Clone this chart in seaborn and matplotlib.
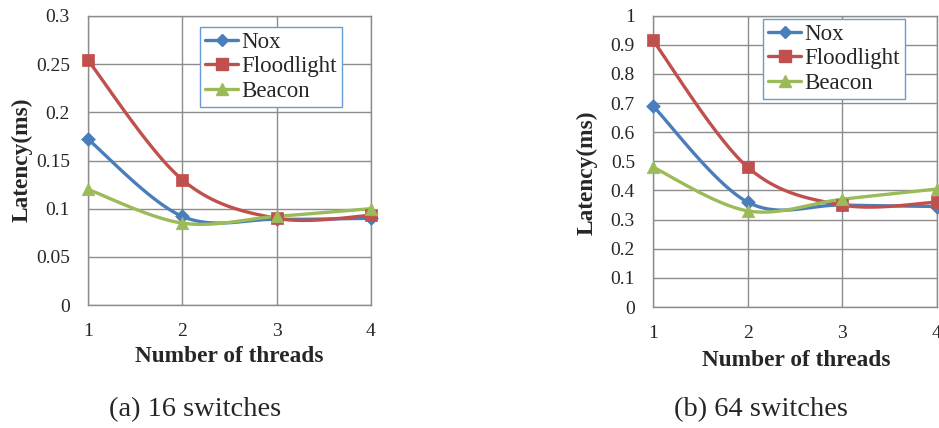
import numpy as np
import pandas as pd
import matplotlib
matplotlib.use("Agg")
import matplotlib.pyplot as plt
from matplotlib.lines import Line2D
import seaborn as sns

threads = [1, 2, 3, 4]
series = ["Nox", "Floodlight", "Beacon"]

# 16 switches
nox_16 = [0.172, 0.092, 0.089, 0.090]
flood_16 = [0.254, 0.130, 0.090, 0.093]
beacon_16 = [0.120, 0.085, 0.092, 0.100]

# 64 switches
nox_64 = [0.690, 0.360, 0.350, 0.345]
flood_64 = [0.915, 0.480, 0.350, 0.360]
beacon_64 = [0.480, 0.330, 0.370, 0.405]

y_ticks_16 = [0, 0.05, 0.1, 0.15, 0.2, 0.25, 0.3]
y_tick_labels_16 = ["0", "0.05", "0.1", "0.15", "0.2", "0.25", "0.3"]
y_ticks_64 = [0, 0.1, 0.2, 0.3, 0.4, 0.5, 0.6, 0.7, 0.8, 0.9, 1.0]
y_tick_labels_64 = ["0", "0.1", "0.2", "0.3", "0.4", "0.5", "0.6", "0.7", "0.8", "0.9", "1"]

colors = {"Nox": "#4A7EBB", "Floodlight": "#C0504D", "Beacon": "#9BBB59"}
markers = {"Nox": "D", "Floodlight": "s", "Beacon": "^"}
msizes = {"Nox": 7, "Floodlight": 9, "Beacon": 9}
leg_msizes = {"Nox": 6, "Floodlight": 8, "Beacon": 8}
GRID = "#8C8C8C"

sns.set_style("white")
plt.rcParams["font.family"] = ["Liberation Serif", "DejaVu Serif"]


def smooth(xs, ys, n=40):
    """Bezier smoothing through every point (spreadsheet-style smoothed line)."""
    xs = np.asarray(xs, float)
    ys = np.asarray(ys, float)
    px = np.concatenate([[xs[0]], xs, [xs[-1]]])
    py = np.concatenate([[ys[0]], ys, [ys[-1]]])
    out_x, out_y = [], []
    t = np.linspace(0, 1, n)
    for i in range(1, len(px) - 2):
        p0 = np.array([px[i], py[i]])
        p3 = np.array([px[i + 1], py[i + 1]])
        c1 = p0 + (np.array([px[i + 1], py[i + 1]]) - np.array([px[i - 1], py[i - 1]])) / 6
        c2 = p3 - (np.array([px[i + 2], py[i + 2]]) - np.array([px[i], py[i]])) / 6
        b = ((1 - t) ** 3)[:, None] * p0 + (3 * (1 - t) ** 2 * t)[:, None] * c1 \
            + (3 * (1 - t) * t ** 2)[:, None] * c2 + (t ** 3)[:, None] * p3
        out_x.extend(b[:, 0])
        out_y.extend(b[:, 1])
    return out_x, out_y


def draw_panel(ax, data, yticks, ylabels, ymax, legend_box):
    for name in series:
        sx, sy = smooth(threads, data[name])
        curve = pd.DataFrame({"x": sx, "y": sy})
        sns.lineplot(data=curve, x="x", y="y", ax=ax, color=colors[name],
                     linewidth=2.4, sort=False, estimator=None, zorder=3)
    for name in series:
        pts = pd.DataFrame({"x": threads, "y": data[name]})
        sns.scatterplot(data=pts, x="x", y="y", ax=ax, color=colors[name],
                        marker=markers[name], s=msizes[name] ** 2,
                        edgecolor=colors[name], linewidth=0.5, zorder=4,
                        clip_on=False)
    ax.set_xlim(1, 4)
    ax.set_ylim(0, ymax)
    ax.set_xticks(threads)
    ax.set_xticklabels([str(t) for t in threads])
    ax.set_yticks(yticks)
    ax.set_yticklabels(ylabels)
    ax.grid(True, color=GRID, linewidth=1.0)
    ax.set_axisbelow(True)
    for s in ax.spines.values():
        s.set_visible(True)
        s.set_color(GRID)
        s.set_linewidth(1.0)
    ax.tick_params(axis="both", which="both", length=6, width=1.0,
                   color=GRID, labelsize=14, direction="out")
    ax.tick_params(axis="y", pad=7)
    ax.tick_params(axis="x", pad=7)
    ax.set_xlabel("")
    ax.set_ylabel("")
    handles = [Line2D([0], [0], color=colors[n], linewidth=2.4, marker=markers[n],
                      markersize=leg_msizes[n], markeredgecolor=colors[n]) for n in series]
    leg = ax.legend(handles, series, loc="upper left", bbox_to_anchor=legend_box,
                    bbox_transform=ax.figure.transFigure, frameon=True, fancybox=False,
                    fontsize=16.5, handlelength=1.45, handletextpad=0.12,
                    labelspacing=0.14, borderpad=0.22, borderaxespad=0)
    leg.get_frame().set_edgecolor("#6A9AD6")
    leg.get_frame().set_linewidth(1.0)
    leg.get_frame().set_facecolor("white")
    leg.get_frame().set_alpha(1)


W, H = 939, 428
fig = plt.figure(figsize=(W / 100, H / 100), dpi=100)

ax1 = fig.add_axes([88 / W, 1 - 305 / H, (371 - 88) / W, (305 - 16) / H])
ax2 = fig.add_axes([653 / W, 1 - 307 / H, (937 - 653) / W, (307 - 15.7) / H])

draw_panel(ax1, {"Nox": nox_16, "Floodlight": flood_16, "Beacon": beacon_16},
           y_ticks_16, y_tick_labels_16, 0.3, (200 / W, 1 - 27 / H))
draw_panel(ax2, {"Nox": nox_64, "Floodlight": flood_64, "Beacon": beacon_64},
           y_ticks_64, y_tick_labels_64, 1.0, (763 / W, 1 - 19 / H))

bold = dict(fontweight="bold", fontsize=16.8)
fig.text(229 / W, 1 - 357 / H, "Number of threads", ha="center", va="center", **bold)
fig.text(796 / W, 1 - 360 / H, "Number of threads", ha="center", va="center", **bold)
fig.text(22 / W, 1 - 160 / H, "Latency(ms)", ha="center", va="center", rotation=90, **bold)
fig.text(587 / W, 1 - 173 / H, "Latency(ms)", ha="center", va="center", rotation=90, **bold)

fig.text(195 / W, 1 - 410 / H, "(a) 16 switches", ha="center", va="center", fontsize=20.5)
fig.text(761 / W, 1 - 410 / H, "(b) 64 switches", ha="center", va="center", fontsize=20.5)

fig.savefig("out.png", dpi=100, facecolor="white")
